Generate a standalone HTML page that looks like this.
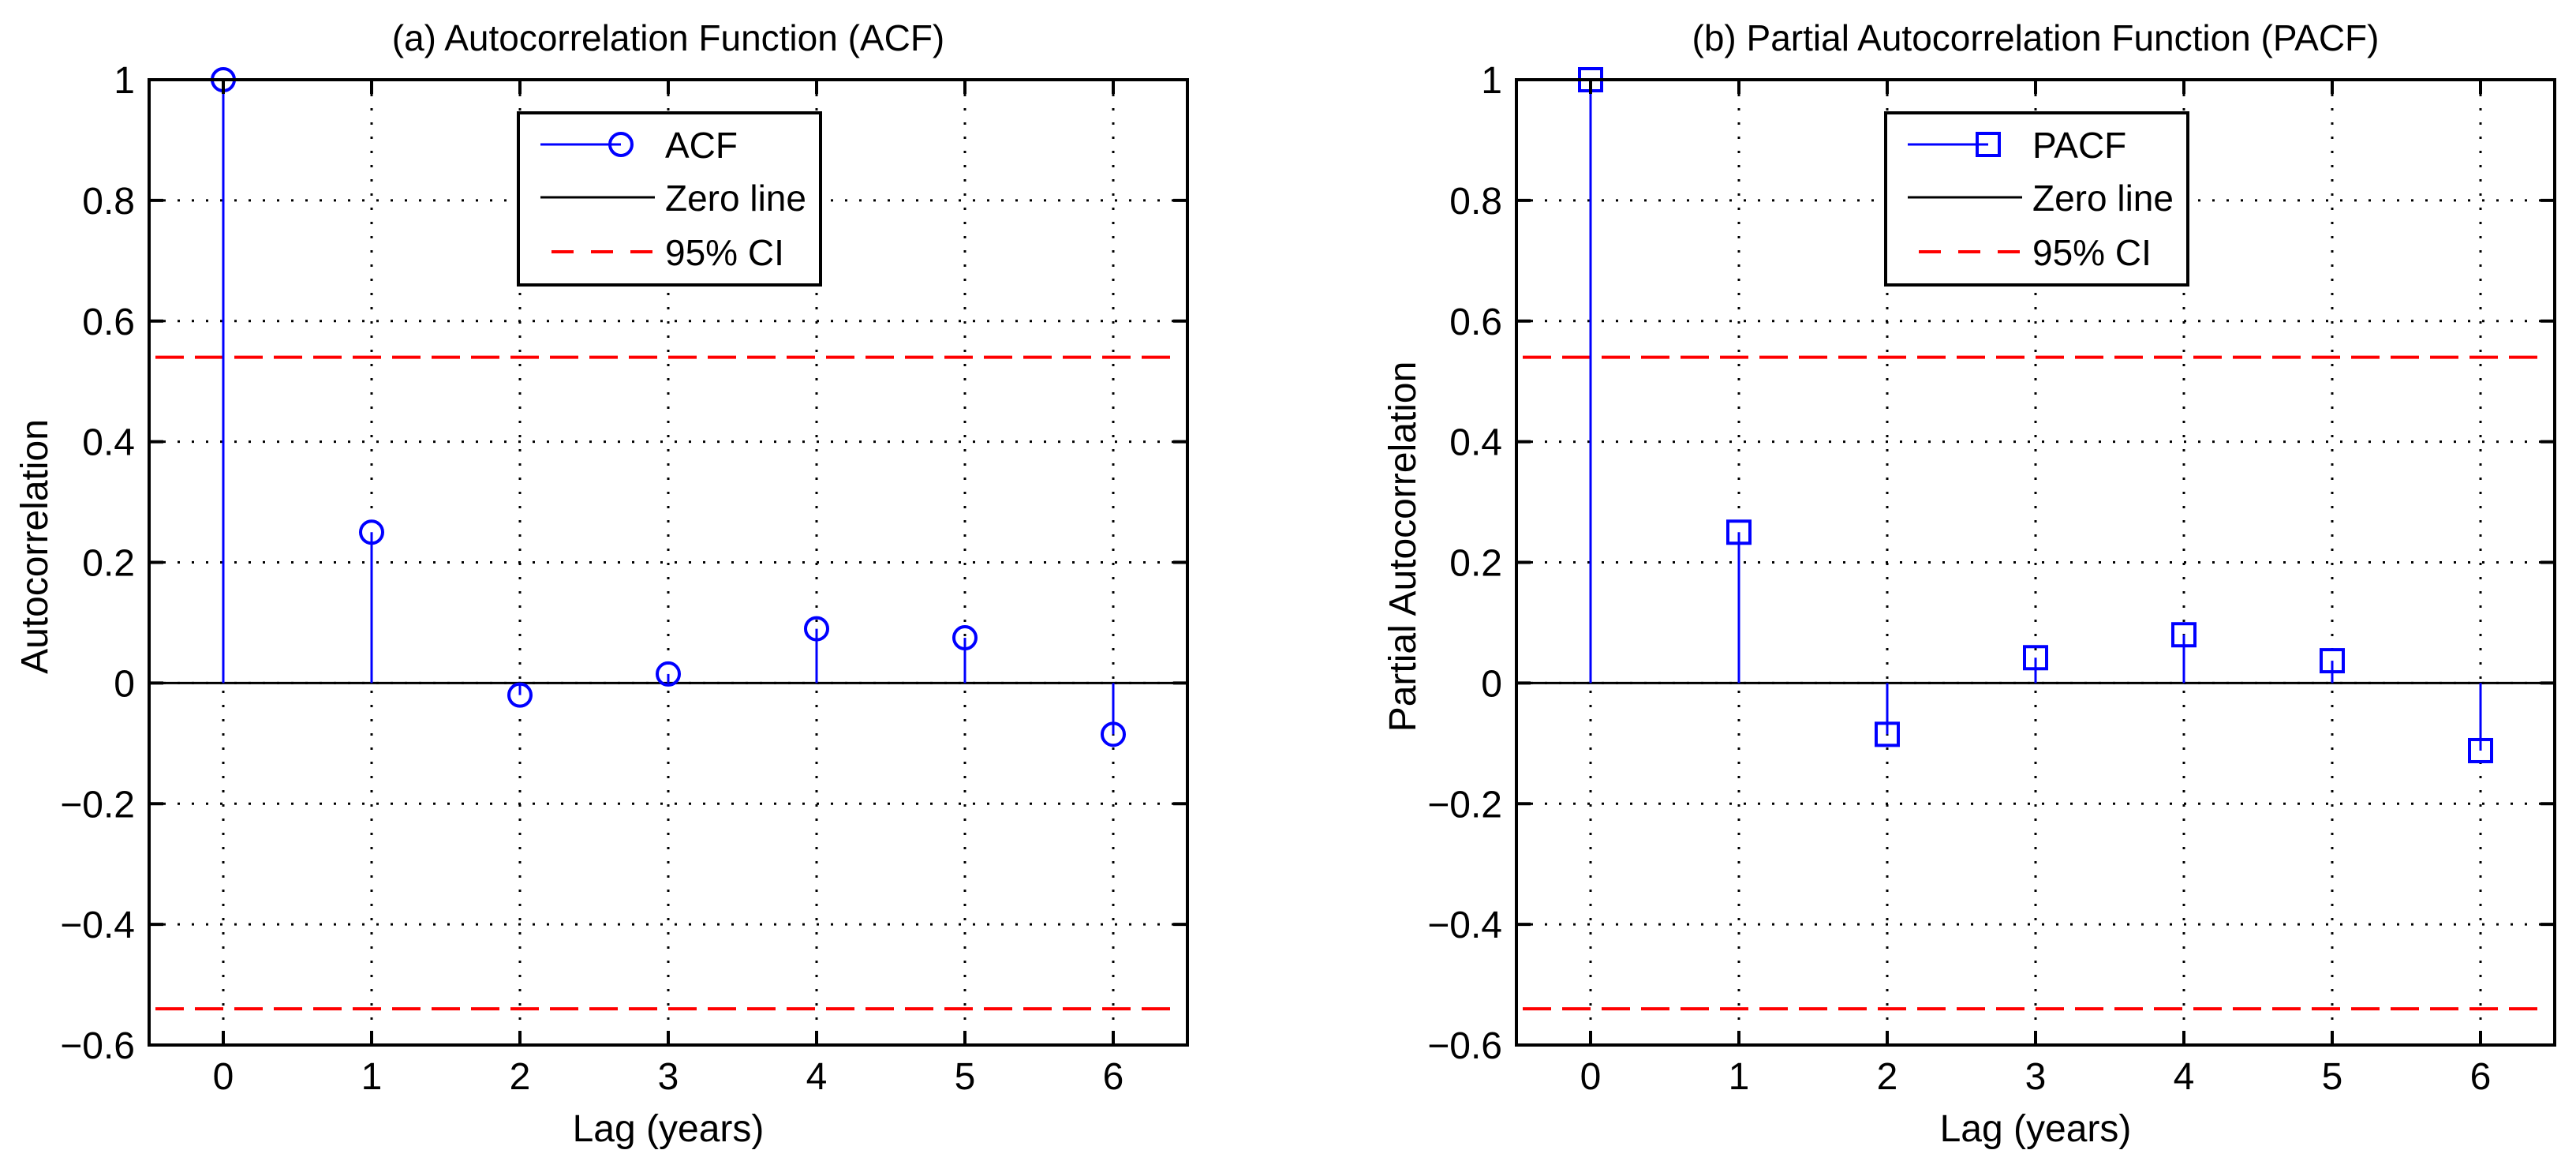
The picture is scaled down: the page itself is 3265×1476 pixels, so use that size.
<!DOCTYPE html>
<html><head><meta charset="utf-8"><style>
html,body{margin:0;padding:0;background:#fff;}
svg{display:block;font-family:"Liberation Sans",Arial,sans-serif;}
</style></head><body>
<svg id="fig" width="3265" height="1476" viewBox="0 0 3265 1476" xmlns="http://www.w3.org/2000/svg"></svg>
<script>
const lags = [0,1,2,3,4,5,6];
const acfValues = [1, 0.25, -0.02, 0.015, 0.09, 0.075, -0.085];
const pacfValues = [1, 0.25, -0.085, 0.042, 0.08, 0.037, -0.112];
const ciBound = 0.54;
const yTicks = [1, 0.8, 0.6, 0.4, 0.2, 0, -0.2, -0.4, -0.6];
const yTickLabels = ["1","0.8","0.6","0.4","0.2","0","\u22120.2","\u22120.4","\u22120.6"];
const xTicks = [0,1,2,3,4,5,6];

const NS = "http://www.w3.org/2000/svg";
const svg = document.getElementById('fig');
function mk(tag, attrs, parent){
  const e = document.createElementNS(NS, tag);
  for (const k in attrs) e.setAttribute(k, attrs[k]);
  (parent||svg).appendChild(e);
  return e;
}

function panel(cfg){
  const g = mk('g', {});
  
  
  const L = cfg.left, R = cfg.left + 1316, T = 101, B = 1324;
  const xs = v => L + (v + 0.5) * (R - L) / 7;
  const ys = v => T + (1 - v) * (B - T) / 1.6;

  // grid
  xTicks.forEach(t => {
    const l = mk('line', {x1:xs(t), x2:xs(t), y1:T, y2:B, stroke:'#000', 'stroke-width':3, 'stroke-dasharray':'3 15'}, g);
    
    
  });
  yTicks.forEach(t => {
    if (t === 1 || t === -0.6) return;
    const l = mk('line', {x1:L, x2:R, y1:ys(t), y2:ys(t), stroke:'#000', 'stroke-width':3, 'stroke-dasharray':'3 15'}, g);
    
    
  });
  // CI lines
  [ciBound, -ciBound].forEach(c => {
    const l = mk('line', {x1:L+8, x2:R-15, y1:ys(c), y2:ys(c), stroke:'#ff0000', 'stroke-width':4, 'stroke-dasharray':'36 14'}, g);
    
    
  });
  // zero line
  const z = mk('line', {x1:L, x2:R, y1:ys(0), y2:ys(0), stroke:'#000', 'stroke-width':3}, g);
  
  
  // stems
  cfg.values.forEach((v, i) => {
    const x = xs(lags[i]), y = ys(v);
    const s = mk('line', {x1:x, x2:x, y1:ys(0), y2:y, stroke:'#0000ff', 'stroke-width':3}, g);
    
    
    let m;
    if (cfg.marker === 'circle') m = mk('circle', {cx:x, cy:y, r:14, fill:'none', stroke:'#0000ff', 'stroke-width':4}, g);
    else m = mk('rect', {x:x-14, y:y-14, width:28, height:28, fill:'none', stroke:'#0000ff', 'stroke-width':4}, g);
    
    
  });
  // axes box
  const box = mk('rect', {x:L, y:T, width:R-L, height:B-T, fill:'none', stroke:'#000', 'stroke-width':4}, g);
  
  
  // ticks and labels
  xTicks.forEach(t => {
    mk('line', {x1:xs(t), x2:xs(t), y1:B, y2:B-18, stroke:'#000', 'stroke-width':4}, g);
    mk('line', {x1:xs(t), x2:xs(t), y1:T, y2:T+18, stroke:'#000', 'stroke-width':4}, g);
    const tx = mk('text', {x:xs(t), y:1380, 'font-size':48, 'text-anchor':'middle'}, g);
    tx.textContent = String(t);
    
    
  });
  yTicks.forEach((t, i) => {
    mk('line', {x1:L, x2:L+18, y1:ys(t), y2:ys(t), stroke:'#000', 'stroke-width':4}, g);
    mk('line', {x1:R, x2:R-18, y1:ys(t), y2:ys(t), stroke:'#000', 'stroke-width':4}, g);
    const tx = mk('text', {x:L-18, y:ys(t)+17, 'font-size':48, 'text-anchor':'end'}, g);
    tx.textContent = yTickLabels[i];
    
    
  });
  // title
  const ti = mk('text', {x:(L+R)/2, y:64, 'font-size':46, 'text-anchor':'middle'}, g);
  ti.textContent = cfg.title;
  
  
  const xl = mk('text', {x:(L+R)/2, y:1446, 'font-size':48, 'text-anchor':'middle'}, g);
  xl.textContent = 'Lag (years)';
  
  
  const yl = mk('text', {x:0, y:0, 'font-size':48, 'text-anchor':'middle', transform:'translate('+cfg.ylx+','+((T+B)/2 - 20)+') rotate(-90)'}, g);
  yl.textContent = cfg.ylabel;
  
  
  // legend
  const lg = mk('g', {}, g);
  
  
  const lx = cfg.legendX;
  mk('rect', {x:lx, y:143, width:383, height:218, fill:'#fff', stroke:'#000', 'stroke-width':4}, lg);
  const rows = [183, 250, 319];
  const e1 = mk('line', {x1:lx+28, x2:lx+130, y1:rows[0], y2:rows[0], stroke:'#0000ff', 'stroke-width':3}, lg);
  
  
  if (cfg.marker === 'circle') mk('circle', {cx:lx+130, cy:rows[0], r:14, fill:'none', stroke:'#0000ff', 'stroke-width':4}, lg);
  else mk('rect', {x:lx+116, y:rows[0]-14, width:28, height:28, fill:'none', stroke:'#0000ff', 'stroke-width':4}, lg);
  const e2 = mk('line', {x1:lx+28, x2:lx+173, y1:rows[1], y2:rows[1], stroke:'#000', 'stroke-width':3}, lg);
  
  
  const e3 = mk('line', {x1:lx+42, x2:lx+173, y1:rows[2], y2:rows[2], stroke:'#ff0000', 'stroke-width':4, 'stroke-dasharray':'28 22'}, lg);
  
  
  [cfg.seriesName, 'Zero line', '95% CI'].forEach((s, i) => {
    const t = mk('text', {x:lx+186, y:rows[i]+17, 'font-size':46}, lg);
    t.textContent = s;
    
    
  });
}

panel({name:'acf-panel', left:189, values:acfValues, marker:'circle', title:'(a) Autocorrelation Function (ACF)', ylabel:'Autocorrelation', ylx:60, legendX:657, seriesName:'ACF'});
panel({name:'pacf-panel', left:1922, values:pacfValues, marker:'square', title:'(b) Partial Autocorrelation Function (PACF)', ylabel:'Partial Autocorrelation', ylx:1794, legendX:2390, seriesName:'PACF'});
</script>
</body></html>
